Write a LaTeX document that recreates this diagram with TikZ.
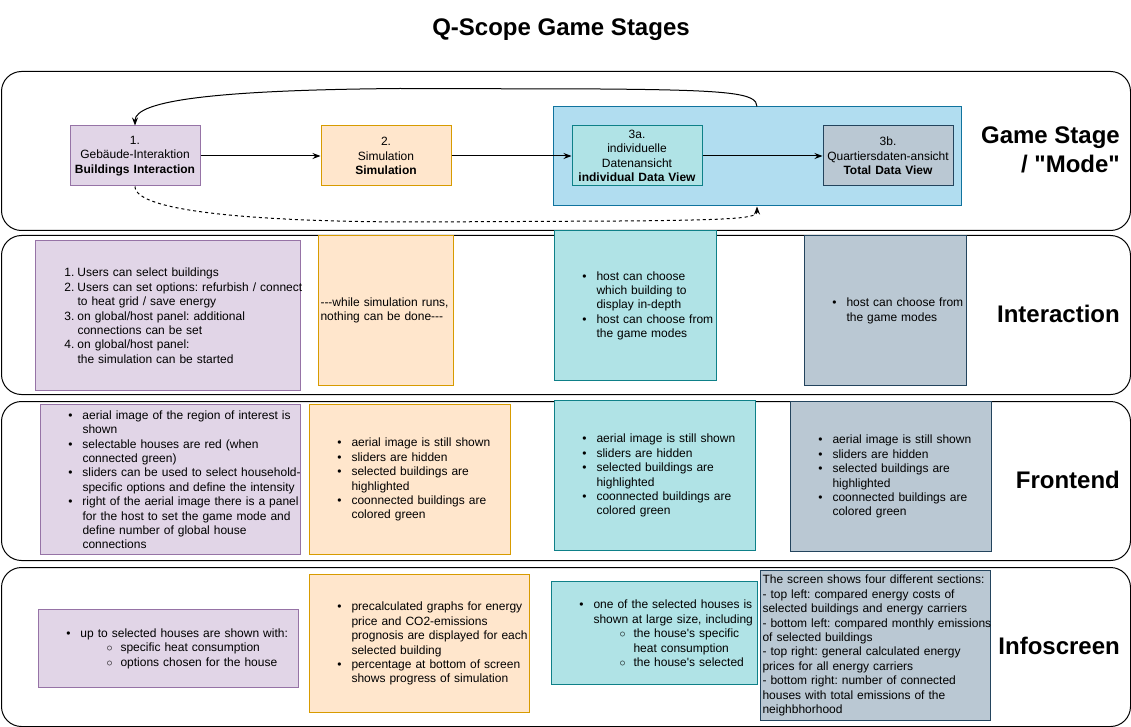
\documentclass[tikz,border=0pt]{standalone}
\usepackage{fontspec}
\setmainfont{Liberation Sans}
\usetikzlibrary{arrows.meta,positioning}
\frenchspacing

\definecolor{lilaF}{HTML}{E1D5E7}
\definecolor{lilaD}{HTML}{9673A6}
\definecolor{orngF}{HTML}{FFE6CC}
\definecolor{orngD}{HTML}{D79B00}
\definecolor{blueF}{HTML}{B1DDF0}
\definecolor{blueD}{HTML}{10739E}
\definecolor{tealF}{HTML}{B0E3E6}
\definecolor{tealD}{HTML}{0E8088}
\definecolor{greyF}{HTML}{BAC8D3}
\definecolor{greyD}{HTML}{23445D}

% list lines inside the cards
\newcommand{\bitem}[1]{\par\leftskip=42pt\rightskip=-20pt plus 1fil\relax\noindent\llap{\textbullet\hspace{10pt}}#1\par}
\newcommand{\sitem}[1]{\par\leftskip=82pt\rightskip=-20pt plus 1fil\relax\noindent\llap{$\circ$\hspace{8pt}}#1\par}
\newcommand{\nitem}[2]{\par\leftskip=42pt\rightskip=-20pt plus 1fil\relax\noindent\llap{#1.\hspace{3pt}}#2\par}
\newcommand{\plainskip}{\leftskip=2pt\rightskip=-20pt plus 1fil\relax}
\newcommand{\cardend}{\par\kern5pt}

\begin{document}
\begin{tikzpicture}[x=1pt,y=-1pt,>={Stealth[length=8pt,width=6pt]},node distance=120pt,
    every node/.style={font=\fontsize{12pt}{14.4pt}\selectfont},
    rowbox/.style={draw,line width=1pt,rounded corners=20pt,minimum width=1129pt,minimum height=159pt,anchor=north west},
    stagebox/.style={draw,line width=1pt,inner sep=0pt,align=center,text width=130pt,minimum height=60pt},
    card/.style={draw,line width=1pt,inner sep=0pt,align=left,anchor=north west,minimum height=150pt},
    listcard/.style={card,execute at end node=\cardend},
    lila/.style={fill=lilaF,draw=lilaD},
    orng/.style={fill=orngF,draw=orngD},
    teal/.style={fill=tealF,draw=tealD},
    grey/.style={fill=greyF,draw=greyD},
    rowlabel/.style={font=\bfseries\fontsize{24pt}{28.8pt}\selectfont,align=right,anchor=east,inner sep=0pt}]
    \useasboundingbox (0,0) rectangle (1131,727);

    \node[font=\bfseries\fontsize{24pt}{28.8pt}\selectfont] (title) at (561,30) {Q-Scope Game Stages};

    % the four rows
    \node[rowbox] (rowStage) at (1,71)  {};
    \node[rowbox] (rowInter) at (1,235) {};
    \node[rowbox] (rowFront) at (1,401) {};
    \node[rowbox] (rowInfo)  at (1,567) {};

    \node[rowlabel] (lblStage) at (1120,150) {Game Stage\\/ \textquotedbl Mode\textquotedbl};
    \node[rowlabel] (lblInter) at (1120,314) {Interaction};
    \node[rowlabel] (lblFront) at (1120,480) {Frontend};
    \node[rowlabel] (lblInfo)  at (1120,646) {Infoscreen};

    % game stages
    \node[draw=blueD,fill=blueF,line width=1pt,minimum width=408pt,minimum height=99pt] (modes) at (757,156.5) {};
    \node[stagebox,lila]               (bld)   at (135,156) {1.\\Gebäude-Interaktion\\\textbf{Buildings Interaction}};
    \node[stagebox,orng,right=of bld]  (sim)   {2.\\Simulation\\\textbf{Simulation}};
    \node[stagebox,teal,right=of sim]  (indiv) {3a.\\individuelle\\Datenansicht\\\textbf{individual Data View}};
    \node[stagebox,grey,right=of indiv] (total) {3b.\\Quartiersdaten-ansicht\\\textbf{Total Data View}};

    \path[->,line width=1pt]
      (bld)   edge (sim)
      (sim)   edge (indiv)
      (indiv) edge (total);
    \draw[->,line width=1pt] (modes.north) .. controls (757,93) and (730,90) .. (600,89)
      -- (400,88.5) .. controls (220,90) and (135,100) .. (bld.north);
    \draw[->,line width=1pt,dash pattern=on 3pt off 3pt] (bld.south) .. controls (135,212) and (260,222) .. (420,222)
      -- (620,221) .. controls (740,220) and (757,218) .. (modes.south);

    % interaction
    \node[listcard,lila,text width=265pt] (interBld) at (35,240) {
      \nitem{1}{Users can select buildings}
      \nitem{2}{Users can set options: refurbish / connect\\to heat grid / save energy}
      \nitem{3}{on global/host panel: additional\\connections can be set}
      \nitem{4}{on global/host panel:\\the simulation can be started}};
    \node[card,orng,text width=135pt] (interSim) at (318,235) {\plainskip
      -{}-{}-while simulation runs,\\nothing can be done-{}-{}-\par};
    \node[listcard,teal,text width=162pt] (interIndiv) at (554,230) {
      \bitem{host can choose\\which building to\\display in-depth}
      \bitem{host can choose from\\the game modes}};
    \node[listcard,grey,text width=162pt] (interTotal) at (804,235) {
      \bitem{host can choose from\\the game modes}};

    % frontend
    \node[listcard,lila,text width=260pt] (frontBld) at (40,404) {
      \bitem{aerial image of the region of interest is\\shown}
      \bitem{selectable houses are red (when\\connected green)}
      \bitem{sliders can be used to select household-\\specific options and define the intensity}
      \bitem{right of the aerial image there is a panel\\for the host to set the game mode and\\define number of global house\\connections}};
    \node[listcard,orng,text width=201pt] (frontSim) at (309,404) {
      \bitem{aerial image is still shown}
      \bitem{sliders are hidden}
      \bitem{selected buildings are\\highlighted}
      \bitem{coonnected buildings are\\colored green}};
    \node[listcard,teal,text width=201pt] (frontIndiv) at (554,400) {
      \bitem{aerial image is still shown}
      \bitem{sliders are hidden}
      \bitem{selected buildings are\\highlighted}
      \bitem{coonnected buildings are\\colored green}};
    \node[listcard,grey,text width=201pt] (frontTotal) at (790,401) {
      \bitem{aerial image is still shown}
      \bitem{sliders are hidden}
      \bitem{selected buildings are\\highlighted}
      \bitem{coonnected buildings are\\colored green}};

    % infoscreen
    \node[listcard,lila,text width=260pt,minimum height=78pt] (infoBld) at (38,609) {
      \bitem{up to selected houses are shown with:}
      \sitem{specific heat consumption}
      \sitem{options chosen for the house}};
    \node[listcard,orng,text width=220pt,minimum height=138pt] (infoSim) at (309,574) {
      \bitem{precalculated graphs for energy\\price and CO2-emissions\\prognosis are displayed for each\\selected building}
      \bitem{percentage at bottom of screen\\shows progress of simulation}};
    \node[listcard,teal,text width=206pt,minimum height=103pt] (infoIndiv) at (551,581) {
      \bitem{one of the selected houses is\\shown at large size, including}
      \sitem{the house\textquotesingle s specific\\heat consumption}
      \sitem{the house\textquotesingle s selected}};
    \node[card,grey,text width=230pt] (infoTotal) at (760,570) {\plainskip
      The screen shows four different sections:\\- top left: compared energy costs of\\selected buildings and energy carriers\\- bottom left: compared monthly emissions\\of selected buildings\\- top right: general calculated energy\\prices for all energy carriers\\- bottom right: number of connected\\houses with total emissions of the\\neighbhorhood\par};
\end{tikzpicture}
\end{document}
